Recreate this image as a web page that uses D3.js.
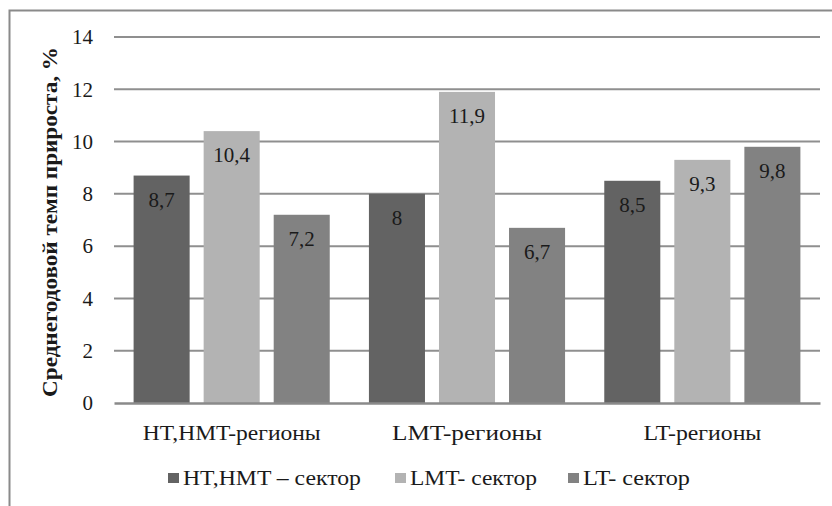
<!DOCTYPE html>
<html><head><meta charset="utf-8">
<script src="https://cdn.jsdelivr.net/npm/d3@7"></script>
<style>body{margin:0;background:#fff}svg{display:block}</style>
</head><body>
<svg id="c" width="832" height="506"></svg>
<script>
const categories = ["HT,HMT-регионы", "LMT-регионы", "LT-регионы"];
const seriesNames = ["HT,HMT – сектор", "LMT- сектор", "LT- сектор"];
const hthmtSector = [8.7, 8, 8.5];
const lmtSector = [10.4, 11.9, 9.3];
const ltSector = [7.2, 6.7, 9.8];
const seriesColors = ["#636363", "#b3b3b3", "#828282"];
const yTicks = [0, 2, 4, 6, 8, 10, 12, 14];
const yTitle = "Среднегодовой темп прироста, %";

const series = [hthmtSector, lmtSector, ltSector];
const svg = d3.select("#c");
const FF = "Liberation Serif";

// horizontal scale factor so that a text's width becomes w
function sxFor(node, w){ return w / node.getComputedTextLength(); }

// chart border
svg.append("path").attr("d","M9.5,506 V10.5 H832").attr("fill","none")
  .attr("stroke","#8a8a8a").attr("stroke-width",2);

const x0 = d3.scaleBand().domain(categories).range([114, 820]).paddingInner(0).paddingOuter(0);
const x1 = d3.scaleBand().domain(d3.range(3)).range([19.6, x0.bandwidth()-19.6]).paddingInner(0.2).paddingOuter(0);
const y = d3.scaleLinear().domain([0, 14]).range([403, 37]);

// gridlines
svg.append("g").selectAll("line").data(yTicks.filter(t=>t>0)).join("line")
  .attr("x1",114).attr("x2",820).attr("y1",d=>y(d)).attr("y2",d=>y(d))
  .attr("stroke","#8f8f8f").attr("stroke-width",2);

// y axis labels
const ya = svg.append("g").attr("transform","translate(114,0)")
  .call(d3.axisLeft(y).tickValues(yTicks).tickSize(0).tickPadding(21));
ya.select(".domain").remove();
ya.selectAll("text").style("font-family",FF).style("font-size","21px").attr("fill","#1a1a1a");

// bars
const groups = svg.append("g").selectAll("g").data(categories).join("g")
  .attr("transform",d=>`translate(${x0(d)},0)`);
groups.each(function(cat, ci){
  const g = d3.select(this);
  series.forEach((s, si)=>{
    g.append("rect").attr("x",x1(si)).attr("width",x1.bandwidth())
      .attr("y",y(s[ci])).attr("height",y(0)-y(s[ci])).attr("fill",seriesColors[si]);
    g.append("text").attr("x",x1(si)+x1.bandwidth()/2).attr("y",y(s[ci])+31)
      .attr("text-anchor","middle").style("font-family",FF).style("font-size","21px")
      .attr("fill","#1a1a1a").text(String(s[ci]).replace(".",","));
  });
});

// x axis
const xa = svg.append("g").attr("transform","translate(0,403)")
  .call(d3.axisBottom(x0).tickSize(0).tickPadding(21));
xa.select(".domain").attr("stroke","#8a8a8a").attr("stroke-width",2.5);
const catW = [178, 150, 118];
xa.selectAll("text").style("font-family",FF).style("font-size","22px").attr("fill","#1a1a1a")
  .each(function(d,i){ d3.select(this).attr("transform",`scale(${sxFor(this,catW[i])},1)`); });

// y title
const yt = svg.append("text").attr("text-anchor","middle").style("font-family",FF)
  .style("font-weight","bold").style("font-size","20px").attr("fill","#1a1a1a").text(yTitle);
yt.attr("transform",`translate(57,222) rotate(-90) scale(${sxFor(yt.node(),350)},1)`);

// legend
const legendX = [168, 395, 568];
const legendW = [178, 127, 107];
const lg = svg.append("g").selectAll("g").data(seriesNames).join("g")
  .attr("transform",(d,i)=>`translate(${legendX[i]},478)`);
lg.append("rect").attr("x",0).attr("y",-5).attr("width",11).attr("height",10).attr("fill",(d,i)=>seriesColors[i]);
lg.append("text").style("font-family",FF).style("font-size","21px")
  .attr("fill","#1a1a1a").text(d=>d)
  .each(function(d,i){ d3.select(this).attr("transform",`translate(15,7) scale(${sxFor(this,legendW[i])},1)`); });
</script>
</body></html>
